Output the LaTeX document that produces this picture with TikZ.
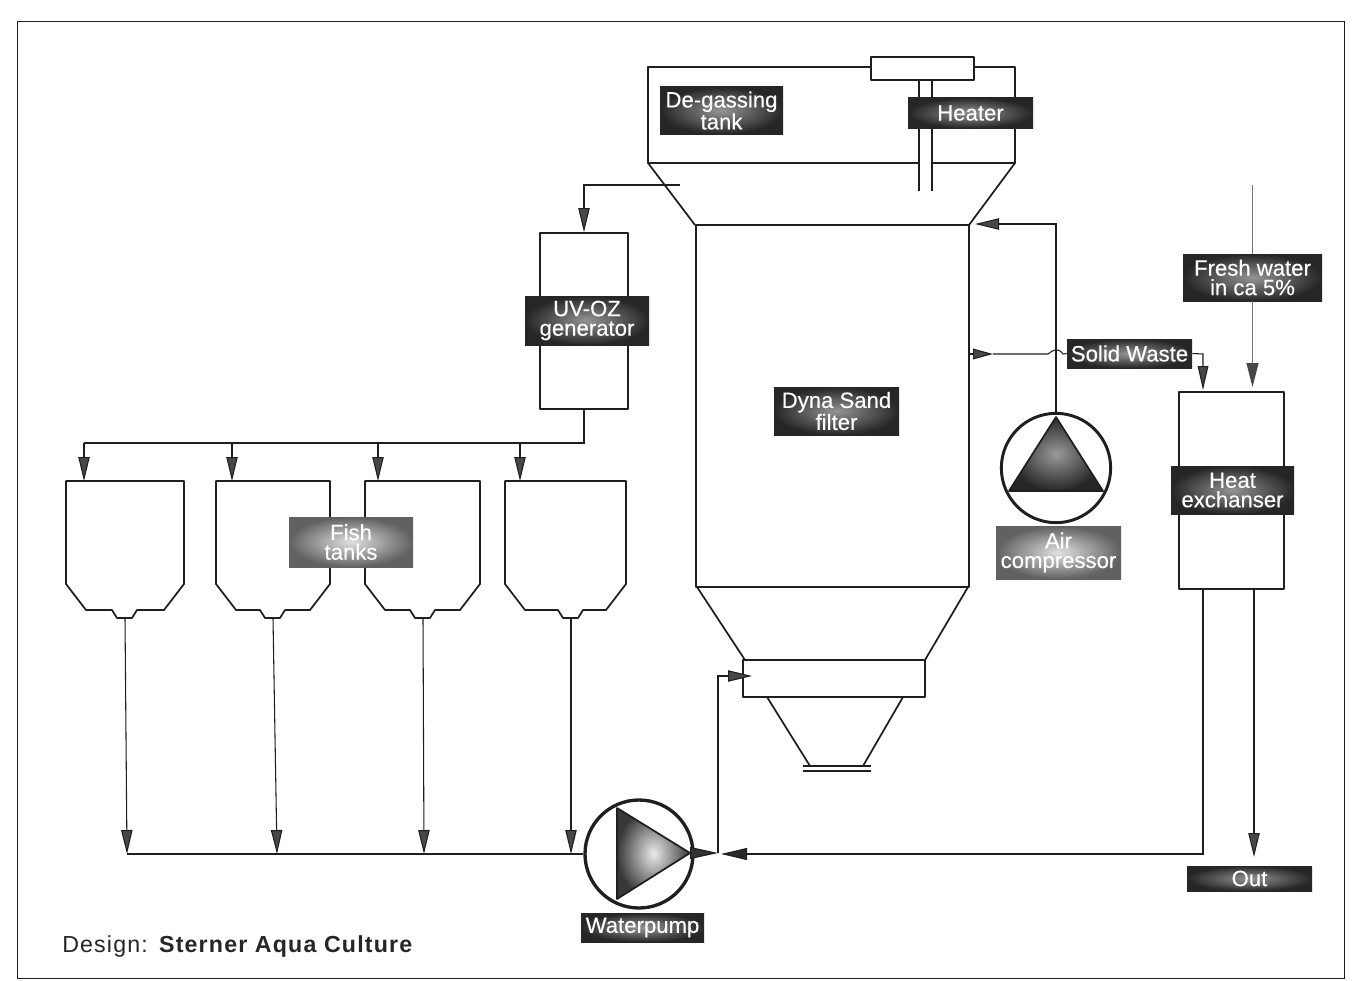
\documentclass[tikz,border=0pt]{standalone}
\usepackage{fontspec}
\setmainfont{Liberation Sans}
\usetikzlibrary{arrows.meta,shadings}
\definecolor{ink}{gray}{0.12}
\definecolor{lbldark}{gray}{0.15}
\definecolor{lblmid}{gray}{0.58}
\tikzset{
  line/.style={draw=ink,line width=1.3pt,line join=round},
  thin line/.style={draw=ink,line width=0.8pt},
  frame line/.style={draw=ink,line width=0.6pt},
  dotline/.style={draw=black!55,line width=0.8pt},
  flow/.style={thin line,-{Triangle[length=18pt,width=8.5pt,fill=black!72]}},
  boxed/.style={line,rectangle,inner sep=0pt,anchor=center},
  label base/.style={rectangle,inner sep=0pt,anchor=center,text=white,align=center,
    font=\fontsize{16.6}{14.6}\selectfont\addfontfeature{FakeBold=0.35}},
  dark label/.style={label base,inner color=lblmid,outer color=lbldark},
  pale label/.style={label base,inner color=black!12,outer color=black!62},
  pump tri/.style={line,inner color=black!8,outer color=black!78},
  comp tri/.style={line,inner color=black!40,outer color=black!85},
  pump ring/.style={draw=ink,line width=2.5pt,circle,inner sep=0pt},
}
% name, x1,y1,x2,y2, style, text
\newcommand{\lblbox}[7]{%
  \pgfmathsetmacro{\lcx}{(#2+#4)/2}\pgfmathsetmacro{\lcy}{(#3+#5)/2}%
  \pgfmathsetmacro{\lw}{(#4-#2)*0.75}\pgfmathsetmacro{\lh}{(#5-#3)*0.75}%
  \node[#6,minimum width=\lw pt,minimum height=\lh pt] (#1) at (\lcx,\lcy) {#7};}
% name, x1,x2, outlet x
\newcommand{\fishtank}[4]{%
  \draw[line] (#2,481) -- (#2,584) -- (#2+20,610) -- (#4-13,610) -- (#4-8,618) -- (#4+7,618) -- (#4+12,610) -- (#3-20,610) -- (#3,584) -- (#3,481) -- cycle;
  \coordinate (#1in) at (#2+18,481);
  \coordinate (#1out) at (#4,618);}
\begin{document}
\begin{tikzpicture}[x=0.75pt,y=-0.75pt]
\useasboundingbox (0,0) rectangle (1353,981);
\fill[white] (0,0) rectangle (1353,981);
% frame
\draw[frame line] (17,21) -- (1344,21) -- (1344,978) -- (17,978) -- cycle;

% de-gassing tank and heater
\draw[line] (871,67) -- (648,67) -- (648,163) -- (918,163);
\draw[line] (974,67) -- (1015,67) -- (1015,163) -- (932,163);
\draw[line] (648,163) -- (695,225);
\draw[line] (1015,163) -- (969,225);
\node[boxed,minimum width=77.25pt,minimum height=17.25pt] (heaterbox) at (922.5,68.5) {};
\draw[line] (919,80) -- (919,191);
\draw[line] (932,80) -- (932,191);

% sand filter
\draw[line] (696,225) -- (969,225) -- (969,587) -- (696,587) -- cycle;
\draw[line] (697,587) -- (745,660);
\draw[line] (968,587) -- (925,660);
\node[boxed,minimum width=136.5pt,minimum height=27.75pt] (inlet) at (834,678.5) {};
\draw[line] (767,697) -- (810,766);
\draw[line] (903,697) -- (863,766);
\draw[line] (803,766) -- (871,766);
\draw[line] (803,771) -- (871,771);

% uv generator, heat exchanger
\node[boxed,minimum width=66pt,minimum height=132pt] (uv) at (584,321) {};
\node[boxed,minimum width=78.75pt,minimum height=147.75pt] (hx) at (1231.5,490.5) {};

% fish tanks
\fishtank{ta}{66}{184}{125}
\fishtank{tb}{216}{330}{273}
\fishtank{tc}{365}{480}{423}
\fishtank{td}{505}{626}{571}

% pumps
\node[pump ring,minimum size=81pt] (pump) at (639,854) {};
\shade[pump tri] (617,808) -- (690,853) -- (617,899) -- cycle;
\coordinate (pumptip) at (690,853);
\node[pump ring,minimum size=82pt,line width=2.2pt] (comp) at (1056,468) {};
\shade[comp tri] (1056,417) -- (1103,491) -- (1009,491) -- cycle;

% distribution
\coordinate (degout) at (680,185);
\draw[flow] (degout) -- (584,185) -- (uv.north);
\coordinate (bus) at (84,443);
\draw[thin line] (uv.south) -- (584,443) -- (bus);
\draw[flow] (84,443) -- (84,481);
\draw[flow] (232,443) -- (232,481);
\draw[flow] (378,443) -- (378,481);
\draw[flow] (520,443) -- (520,481);

% returns
\coordinate (ja) at (127,854);
\coordinate (jb) at (277,854);
\coordinate (jc) at (424,854);
\coordinate (jd) at (571,854);
\draw[flow] (taout) -- (ja);
\draw[flow] (tbout) -- (jb);
\draw[flow] (tcout) -- (jc);
\draw[flow] (tdout) -- (jd);
\draw[thin line] (ja) -- (pump.west);

% pump to filter
\coordinate (pumpjoin) at (718,853);
\draw[thin line,-{Triangle[length=21pt,width=9pt,fill=black!80]}] (pumptip) -- (pumpjoin);
\coordinate (filterin) at (752,676);
\draw[flow] (pumpjoin) -- (718,676) -- (filterin);

% air line
\coordinate (airin) at (975,224);
\draw[flow] (comp.north) -- (1056,224) -- (airin);

% labels
\lblbox{degas}{660}{87}{783}{134}{dark label}{De-gassing\\tank}
\lblbox{heater}{908}{98}{1033}{128}{dark label}{Heater}
\lblbox{uvlbl}{525}{296}{649}{345}{dark label}{UV-OZ\\generator}
\lblbox{dyna}{774}{387}{899}{435}{dark label}{Dyna Sand\\filter}
\lblbox{fresh}{1183}{254}{1322}{301}{dark label}{Fresh water\\in ca 5\%}
\lblbox{waste}{1067}{339}{1192}{368}{dark label}{Solid Waste}
\lblbox{hxlbl}{1171}{466}{1294}{514}{dark label}{Heat\\exchanser}
\lblbox{air}{996}{526}{1121}{579}{pale label}{Air\\compressor}
\lblbox{fish}{289}{517}{413}{567}{pale label}{Fish\\tanks}
\lblbox{wp}{581}{913}{704}{942}{dark label}{Waterpump}
\lblbox{outl}{1187}{866}{1312}{891}{dark label}{Out}

% solid waste
\coordinate (wall) at (969,354);
\coordinate (wastetip) at (993,354);
\draw[thin line,-{Triangle[length=15pt,width=8pt,fill=black!72]}] (wall) -- (wastetip);
\draw[thin line] (wastetip) -- (1048,354) .. controls (1053,350) and (1058,347) .. (1063,354) -- (waste.west);
\coordinate (hxa) at (1203,390);
\draw[thin line,-{Triangle[length=18pt,width=8pt,fill=black!72]}] (waste.east) -- (1203,354) -- (hxa);

% fresh water
\coordinate (freshsrc) at (1252.5,185);
\coordinate (hxb) at (1252.5,387);
\draw[dotline] (freshsrc) -- (fresh.north);
\draw[dotline,-{Triangle[length=18pt,width=9pt,fill=black!72,color=black!72]}] (fresh.south) -- (hxb);

% outlets of the heat exchanger
\coordinate (hxc) at (1203,589);
\coordinate (hxd) at (1254,589);
\coordinate (backjoin) at (721,854);
\draw[thin line,-{Triangle[length=19.5pt,width=9pt,fill=black!85]}] (hxc) -- (1203,854) -- (backjoin);
\coordinate (outtip) at (1254,857);
\draw[flow] (hxd) -- (outtip);

% credit
\node[anchor=base west,inner sep=0pt,font=\fontsize{17.4}{20}\selectfont,text=black!85] (credit) at (62,952) {\addfontfeature{LetterSpace=5}Design: \textbf{Sterner Aqua Culture}};
\end{tikzpicture}
\end{document}
